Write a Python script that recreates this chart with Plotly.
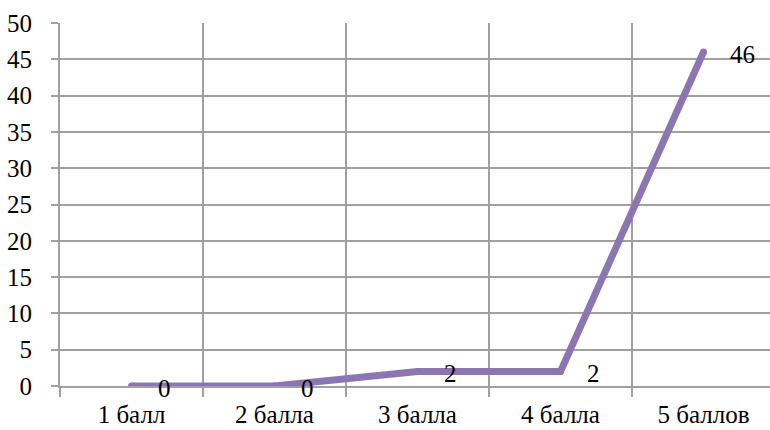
import plotly.graph_objects as go

categories = ["1 балл", "2 балла", "3 балла", "4 балла", "5 баллов"]
counts = [0, 0, 2, 2, 46]
y_ticks = list(range(0, 51, 5))

line_color = "#8B76B2"
grid_color = "#A0A0A0"
font_family = "Liberation Serif"

fig = go.Figure()
fig.add_trace(go.Scatter(
    x=categories,
    y=counts,
    mode="lines+markers",
    line=dict(color=line_color, width=7),
    marker=dict(color=line_color, size=7),
    hoverinfo="x+y",
    showlegend=False,
))

# value labels to the right of each point
for cat, val in zip(categories, counts):
    fig.add_annotation(
        x=cat, y=val, text=str(val), showarrow=False,
        xanchor="left", yanchor="middle", xshift=24, yshift=-2,
        font=dict(family=font_family, size=25, color="black"),
    )

fig.update_layout(
    width=770, height=430,
    margin=dict(l=60, r=0, t=23, b=44),
    paper_bgcolor="white", plot_bgcolor="white",
    font=dict(family=font_family, size=25, color="black"),
)
fig.update_xaxes(
    type="category",
    range=[-0.5, 4.5 - 5 / 142],
    tickson="boundaries",
    ticks="outside", ticklen=9, tickcolor=grid_color, tickwidth=2,
    showgrid=True, gridcolor=grid_color, gridwidth=2,
    showline=True, linecolor=grid_color, linewidth=2,
    tickfont=dict(family=font_family, size=25, color="black"),
    ticklabelstandoff=5,
)
fig.update_yaxes(
    range=[0, 50],
    tickvals=y_ticks,
    ticks="outside", ticklen=7, tickcolor=grid_color, tickwidth=2,
    showgrid=True, gridcolor=grid_color, gridwidth=2,
    showline=True, linecolor=grid_color, linewidth=2,
    zeroline=False,
    tickfont=dict(family=font_family, size=25, color="black"),
    ticklabelstandoff=14,
)

fig.write_html("out.html")
